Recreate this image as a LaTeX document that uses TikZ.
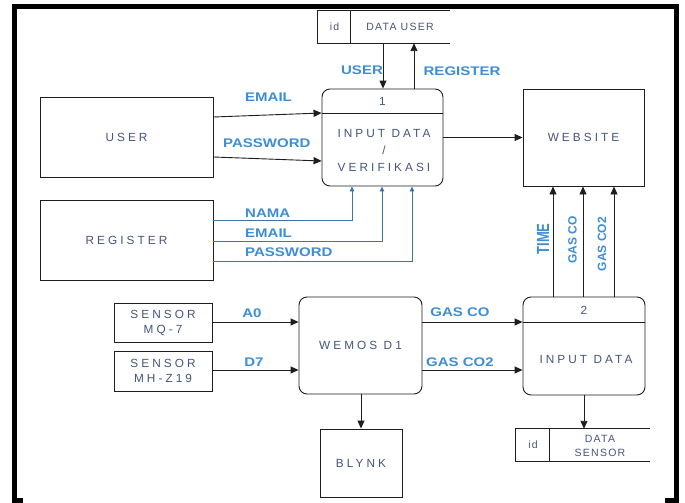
\documentclass[tikz,border=0pt]{standalone}
\usepackage{fontspec}
\usepackage{graphicx}
\setmainfont{Liberation Sans}
\newfontfamily\nodefont[LetterSpace=26]{Liberation Sans}
\newfontfamily\storefont[LetterSpace=12]{Liberation Sans}
\usetikzlibrary{arrows.meta,calc}
\definecolor{linec}{HTML}{1E1E1E}
\definecolor{ntc}{HTML}{44567A}
\definecolor{lblc}{HTML}{3D8ED4}
\definecolor{bluel}{HTML}{3E74AE}
\newcommand{\wl}[1]{\scalebox{1.2}[1]{#1}}
\tikzset{
  box/.style={draw=linec, line width=0.9pt, fill=white, inner sep=0pt},
  proc/.style={box, rounded corners=8pt},
  ntext/.style={font=\nodefont\fontsize{11.8}{17}\selectfont, text=ntc, align=center, inner sep=0pt},
  stext/.style={font=\storefont\fontsize{10.5}{14}\selectfont, text=ntc, align=center, inner sep=0pt},
  lbl/.style={font=\bfseries\fontsize{12.5}{14}\selectfont, text=lblc, inner sep=0pt},
  rlbl/.style={font=\bfseries\fontsize{12}{14}\selectfont, text=lblc, inner sep=0pt, rotate=90},
  arr/.style={draw=linec, line width=0.9pt, -{Triangle[length=8pt,width=7pt]}},
  barr/.style={draw=bluel, line width=0.9pt, -{Triangle[length=5pt,width=4.5pt]}},
  plain/.style={draw=linec, line width=0.9pt},
}
\begin{document}
\begin{tikzpicture}[x=1pt,y=-1pt]
\useasboundingbox (0,0) rectangle (685,503);
\fill[white] (0,0) rectangle (685,503);
% frame
\draw[line width=5pt] (14.5,503) -- (14.5,7) -- (676,7) -- (676,503);
\draw[line width=5pt] (12,500.5) -- (23,500.5);
\draw[line width=5pt] (665,500.5) -- (678.5,500.5);

% data user store
\node[inner sep=0pt, minimum width=132, minimum height=32] (du) at (384,27) {};
\draw[plain] (du.north east) -- (du.north west) -- (du.south west) -- (du.south east);
\draw[plain] ($(du.north west)+(33,0)$) -- ($(du.south west)+(33,0)$);
\node[stext] (duid) at (334.5,27) {id};
\node[stext] (dut) at (400,27) {DATA USER};

% process 1
\node[proc, minimum width=121, minimum height=97] (p1) at (382.5,137.5) {};
\draw[plain] (p1.west |- 0,113) -- (p1.east |- 0,113);
\node[ntext] (p1n) at (382.5,101) {1};
\node[ntext] (p1t) at (384,150) {INPUT DATA\\/\\VERIFIKASI};

% external entities
\node[box, ntext, minimum width=173, minimum height=80] (user) at (126.5,137) {USER};
\node[box, ntext, minimum width=173, minimum height=80] (reg) at (126.5,240) {REGISTER};
\node[box, ntext, minimum width=121, minimum height=97] (web) at (583.5,137.5) {WEBSITE};

% process 2
\node[proc, minimum width=122, minimum height=98] (p2) at (584,346) {};
\draw[plain] (p2.west |- 0,322) -- (p2.east |- 0,322);
\node[ntext] (p2n) at (584,310) {2};
\node[ntext] (p2t) at (586,359) {INPUT DATA};

% wemos
\node[proc, ntext, minimum width=123, minimum height=97] (wemos) at (360.5,345.5) {WEMOS D1};
\node[box, ntext, minimum width=98, minimum height=39] (mq) at (163,322.5) {SENSOR\\[-2pt]MQ-7};
\node[box, ntext, minimum width=98, minimum height=40] (mh) at (163,371) {SENSOR\\[-2pt]MH-Z19};
\node[box, ntext, minimum width=82, minimum height=68] (blynk) at (361,463) {BLYNK};

% data sensor store
\node[inner sep=0pt, minimum width=134, minimum height=32] (ds) at (583,445) {};
\draw[plain] (ds.north east) -- (ds.north west) -- (ds.south west) -- (ds.south east);
\draw[plain] ($(ds.north west)+(34,0)$) -- ($(ds.south west)+(34,0)$);
\node[stext] (dsid) at (533,445) {id};
\node[stext, font=\storefont\fontsize{10.5}{13.5}\selectfont] (dst) at (600,446) {DATA\\SENSOR};

% helper coordinates
\coordinate (xU) at (383,0);
\coordinate (xR) at (414,0);
\coordinate (yE1) at (0,117);
\coordinate (yE2) at (0,113);
\coordinate (yP1) at (0,157);
\coordinate (yP2) at (0,161);
\coordinate (yN) at (0,220);
\coordinate (yM) at (0,241);
\coordinate (yW) at (0,261);
\coordinate (xN) at (352,0);
\coordinate (xM) at (382,0);
\coordinate (xW) at (412,0);
\coordinate (xT) at (553,0);
\coordinate (xC) at (583,0);
\coordinate (xC2) at (614,0);
\coordinate (yA) at (0,322);
\coordinate (yD) at (0,370);

% connectors
\draw[arr] (du.south -| xU) -- (p1.north -| xU);
\draw[arr] (p1.north -| xR) -- (du.south -| xR);
\draw[arr] (user.east |- yE1) -- (p1.west |- yE2);
\draw[arr] (user.east |- yP1) -- (p1.west |- yP2);
\draw[barr] (reg.east |- yN) -| (p1.south -| xN);
\draw[barr] (reg.east |- yM) -| (p1.south -| xM);
\draw[barr] (reg.east |- yW) -| (p1.south -| xW);
\draw[arr] (p1.east) -- (web.west);
\draw[arr] (p2.north -| xT) -- (web.south -| xT);
\draw[arr] (p2.north -| xC) -- (web.south -| xC);
\draw[arr] (p2.north -| xC2) -- (web.south -| xC2);
\draw[arr] (mq.east |- yA) -- (wemos.west |- yA);
\draw[arr] (mh.east |- yD) -- (wemos.west |- yD);
\draw[arr] (wemos.east |- yA) -- (p2.west |- yA);
\draw[arr] (wemos.east |- yD) -- (p2.west |- yD);
\draw[arr] (wemos.south -| blynk.north) -- (blynk.north);
\draw[arr] (p2.south) -- (ds.north -| p2.south);

% labels
\node[lbl] (lU) at (362,70) {\wl{USER}};
\node[lbl] (lR) at (462,71) {\wl{REGISTER}};
\node[lbl, anchor=west] (lE1) at (245,97.5) {\wl{EMAIL}};
\node[lbl, anchor=west] (lP1) at (223,143) {\wl{PASSWORD}};
\node[lbl, anchor=west] (lN) at (245,213.5) {\wl{NAMA}};
\node[lbl, anchor=west] (lE2) at (245,233.5) {\wl{EMAIL}};
\node[lbl, anchor=west] (lP2) at (245,252.5) {\wl{PASSWORD}};
\node[lbl] (lA) at (252,313.5) {\wl{A0}};
\node[lbl] (lD) at (254,362.5) {\wl{D7}};
\node[lbl] (lG1) at (460,312.5) {\wl{GAS CO}};
\node[lbl] (lG2) at (460,362.5) {\wl{GAS CO2}};
\node[rlbl, font=\bfseries\fontsize{13}{14}\selectfont] (lT) at (543,239) {\scalebox{1}[1.35]{TIME}};
\node[rlbl] (lGC) at (572.5,240) {GAS CO};
\node[rlbl] (lGC2) at (602,244) {GAS CO2};
\end{tikzpicture}
\end{document}
